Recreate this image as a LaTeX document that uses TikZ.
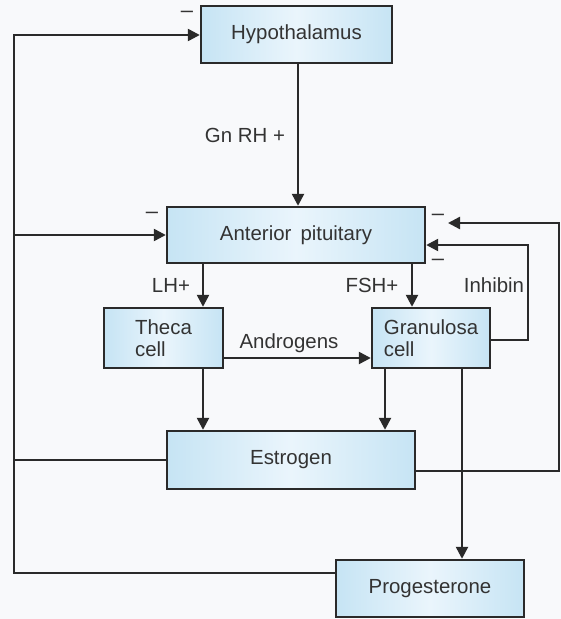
\documentclass[tikz,border=0pt]{standalone}
\usepackage{fontspec}
\setmainfont{Liberation Sans}
\usetikzlibrary{arrows.meta}
\definecolor{bg}{HTML}{F8F9FB}
\definecolor{ink}{HTML}{2A2A2A}
\definecolor{txt}{HTML}{333333}
\definecolor{boxedge}{HTML}{C6E4F4}
\definecolor{boxmid}{HTML}{EAF5FC}
\tikzset{
  hbox/.style={draw=ink, line width=2.4bp, rectangle, inner sep=0pt,
    left color=boxedge, right color=boxedge, middle color=boxmid,
    text=txt, font=\fontsize{20.5}{22}\selectfont, align=left},
  wire/.style={draw=ink, line width=2.4bp},
  arr/.style={wire, -{Triangle[length=12bp,width=12bp]}},
  lbl/.style={text=txt, font=\fontsize{20.5}{22}\selectfont, inner sep=0pt},
  minus/.style={text=txt, font=\fontsize{22}{24}\selectfont, inner sep=0pt,
    text height=7bp, text depth=0bp}
}
\begin{document}
\begin{tikzpicture}[x=1bp, y=-1bp]
  \fill[bg] (0,0) rectangle (561,619);
  \useasboundingbox (0,0) rectangle (561,619);

  % hormone and cell boxes
  \node[hbox, minimum width=191bp, minimum height=57bp] (hyp)   at (296.5,34.5) {Hypothalamus};
  \node[hbox, minimum width=258bp, minimum height=56bp] (ap)    at (296,235)    {Anterior\, pituitary};
  \node[hbox, minimum width=119bp, minimum height=60bp] (theca) at (163.5,338)  {Theca\\cell};
  \node[hbox, minimum width=118bp, minimum height=60bp] (gran)  at (431,338)    {Granulosa\\cell};
  \node[hbox, minimum width=248bp, minimum height=58bp] (est)   at (291,460)    {Estrogen};
  \node[hbox, minimum width=188bp, minimum height=57bp] (prog)  at (430,588.5)  {Progesterone};

  % routing points of the feedback loops
  \coordinate (lt) at (14,35);
  \coordinate (lb) at (14,573);
  \coordinate (rt) at (559,223);
  \coordinate (rb) at (559,471);
  \coordinate (rtip) at (448,223);
  \coordinate (it) at (528,245);
  \coordinate (ib) at (528,340);
  \coordinate (xlh) at (203,0);
  \coordinate (xfsh) at (412,0);
  \coordinate (xgd) at (385,0);
  \coordinate (xpg) at (462,0);
  \coordinate (yand) at (0,358);

  % stimulatory paths
  \draw[arr] (hyp.south -| 298,0) -- (ap.north -| 298,0);
  \draw[arr] (ap.south -| xlh) -- (theca.north -| xlh);
  \draw[arr] (ap.south -| xfsh) -- (gran.north -| xfsh);
  \draw[arr] (theca.east |- yand) -- (gran.west |- yand);
  \draw[arr] (theca.south -| xlh) -- (est.north -| xlh);
  \draw[arr] (gran.south -| xgd) -- (est.north -| xgd);
  \draw[arr] (gran.south -| xpg) -- (prog.north -| xpg);

  % negative feedback loops
  \draw[arr] (prog.west |- lb) -- (lb) -- (lt) -- (hyp.west |- lt);
  \draw[wire] (est.west) -- (est.west -| lt);
  \draw[arr] (ap.west -| lt) -- (ap.west);
  \draw[arr] (est.east |- rb) -- (rb) -- (rt) -- (rtip);
  \draw[arr] (gran.east |- ib) -- (ib) -- (it) -- (ap.east |- it);

  % labels
  \node[lbl] (gnrh) at (245,135) {Gn RH +};
  \node[lbl] (lh)   at (171,285) {LH+};
  \node[lbl] (fsh)  at (372,285) {FSH+};
  \node[lbl] (inh)  at (494,285) {Inhibin};
  \node[lbl] (andr) at (289,343) {Androgens};

  % inhibition marks
  \node[minus] (m1) at (187,13.8)  {–};
  \node[minus] (m2) at (152,214.8) {–};
  \node[minus] (m3) at (438,216.8) {–};
  \node[minus] (m4) at (438,261.8) {–};
\end{tikzpicture}
\end{document}
